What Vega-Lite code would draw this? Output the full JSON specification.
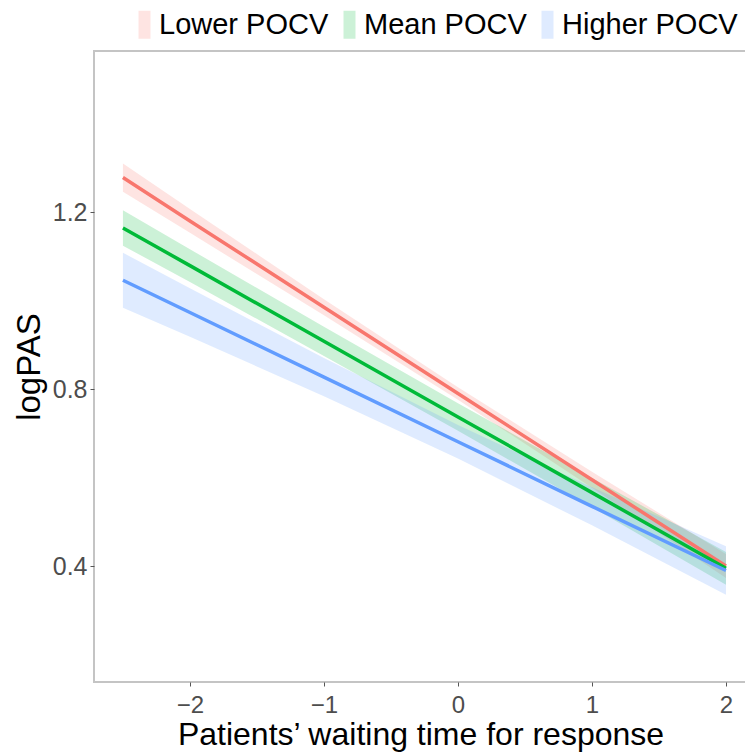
{
  "$schema": "https://vega.github.io/schema/vega-lite/v6.json",
  "width": 653,
  "height": 631,
  "autosize": {"type": "none"},
  "padding": {"left": 94, "top": 51, "right": 0, "bottom": 71},
  "background": "white",
  "config": {
    "view": {"stroke": "#c4c4c4", "strokeWidth": 2},
    "font": "Liberation Sans",
    "axis": {
      "grid": false,
      "domain": false,
      "tickColor": "#555555",
      "tickSize": 4,
      "labelColor": "#4d4d4d",
      "labelFontSize": 25,
      "titleColor": "#000000",
      "titleFontSize": 33,
      "titleFontWeight": "normal",
      "labelFont": "Liberation Sans",
      "titleFont": "Liberation Sans"
    }
  },
  "data": {
    "values": [
      {"group": "Lower POCV", "x": -2.5, "y": 1.278, "lo": 1.246, "hi": 1.310},
      {"group": "Lower POCV", "x": -2, "y": 1.180, "lo": 1.153, "hi": 1.207},
      {"group": "Lower POCV", "x": -1, "y": 0.985, "lo": 0.967, "hi": 1.003},
      {"group": "Lower POCV", "x": 0, "y": 0.790, "lo": 0.776, "hi": 0.804},
      {"group": "Lower POCV", "x": 1, "y": 0.595, "lo": 0.577, "hi": 0.613},
      {"group": "Lower POCV", "x": 2, "y": 0.400, "lo": 0.373, "hi": 0.427},
      {"group": "Mean POCV", "x": -2.5, "y": 1.164, "lo": 1.124, "hi": 1.204},
      {"group": "Mean POCV", "x": -2, "y": 1.079, "lo": 1.042, "hi": 1.116},
      {"group": "Mean POCV", "x": -1, "y": 0.908, "lo": 0.875, "hi": 0.941},
      {"group": "Mean POCV", "x": 0, "y": 0.737, "lo": 0.706, "hi": 0.768},
      {"group": "Mean POCV", "x": 1, "y": 0.566, "lo": 0.533, "hi": 0.599},
      {"group": "Mean POCV", "x": 2, "y": 0.395, "lo": 0.358, "hi": 0.432},
      {"group": "Higher POCV", "x": -2.5, "y": 1.046, "lo": 0.984, "hi": 1.108},
      {"group": "Higher POCV", "x": -2, "y": 0.973, "lo": 0.918, "hi": 1.028},
      {"group": "Higher POCV", "x": -1, "y": 0.827, "lo": 0.784, "hi": 0.870},
      {"group": "Higher POCV", "x": 0, "y": 0.681, "lo": 0.643, "hi": 0.719},
      {"group": "Higher POCV", "x": 1, "y": 0.535, "lo": 0.492, "hi": 0.578},
      {"group": "Higher POCV", "x": 2, "y": 0.390, "lo": 0.335, "hi": 0.445}
    ]
  },
  "resolve": {"legend": {"color": "independent"}},
  "layer": [
    {
      "mark": {"type": "area", "opacity": 0.2, "clip": true},
      "encoding": {
        "x": {"field": "x", "type": "quantitative", "scale": {"domain": [-2.716, 2.157], "nice": false, "zero": false},
              "axis": {"values": [-2, -1, 0, 1, 2], "format": "d", "title": "Patients’ waiting time for response", "labelPadding": 7, "labelFontSize": 24, "titleFontSize": 32, "titlePadding": 2}},
        "y": {"field": "lo", "type": "quantitative", "scale": {"domain": [0.138, 1.564], "nice": false, "zero": false},
              "axis": {"values": [0.4, 0.8, 1.2], "format": ".1f", "title": "logPAS", "labelPadding": 3, "titlePadding": 6}},
        "y2": {"field": "hi"},
        "color": {"field": "group", "type": "nominal",
                  "sort": ["Lower POCV", "Mean POCV", "Higher POCV"],
                  "scale": {"domain": ["Lower POCV", "Mean POCV", "Higher POCV"], "range": ["#F8766D", "#00BA38", "#619CFF"]},
                  "legend": {
                    "orient": "none", "legendX": 36, "legendY": -41, "direction": "horizontal",
                    "title": null, "labelFontSize": 29, "labelColor": "#000000", "labelOffset": 0,
                    "labelLimit": 400,
                    "columnPadding": 6,
                    "symbolType": "M-1,0H1V-2.33H-1V2.33H1V0Z",
                    "symbolSize": 144, "symbolStrokeWidth": 3, "symbolDash": [12, 1000],
                    "encode": {"symbols": {
                      "fill": {"value": {"signal": "scale('color', datum.value)"}},
                      "stroke": {"value": {"signal": "scale('color', datum.value)"}},
                      "fillOpacity": {"value": 0.22},
                      "strokeOpacity": {"value": 1},
                      "strokeWidth": {"value": 3},
                      "strokeDash": {"value": [12, 1000]},
                      "opacity": {"value": 1}
                    }}
                  }}
      }
    },
    {
      "mark": {"type": "line", "strokeWidth": 3.5, "clip": true},
      "encoding": {
        "x": {"field": "x", "type": "quantitative"},
        "y": {"field": "y", "type": "quantitative"},
        "color": {"field": "group", "type": "nominal", "sort": ["Lower POCV", "Mean POCV", "Higher POCV"], "legend": null}
      }
    }
  ]
}
